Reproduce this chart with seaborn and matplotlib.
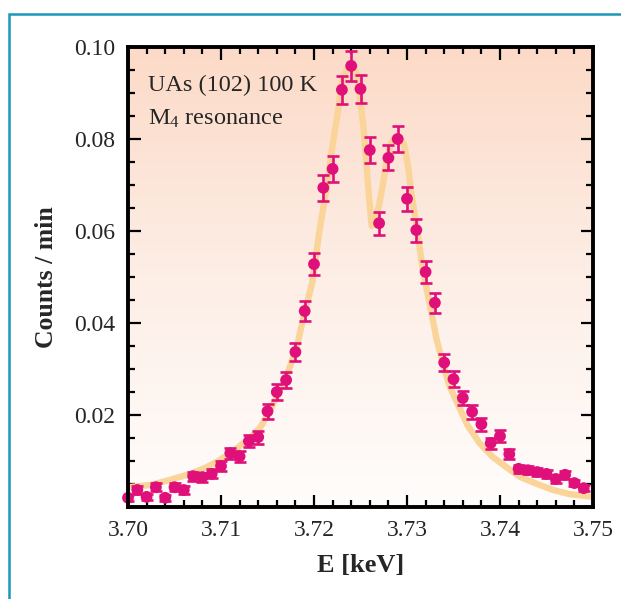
import numpy as np
import pandas as pd
import matplotlib
matplotlib.use("Agg")
import matplotlib.pyplot as plt
import seaborn as sns
from matplotlib.colors import LinearSegmentedColormap
from matplotlib.patches import Rectangle
from matplotlib.ticker import FixedLocator, MultipleLocator, FormatStrFormatter

# measured points (E in keV, counts/min, error)
energy = [3.700, 3.701, 3.702, 3.703, 3.704, 3.705, 3.706, 3.707, 3.708, 3.709,
          3.710, 3.711, 3.712, 3.713, 3.714, 3.715, 3.716, 3.717, 3.718, 3.719,
          3.720, 3.721, 3.722, 3.723, 3.724, 3.725, 3.726, 3.727, 3.728, 3.729,
          3.730, 3.731, 3.732, 3.733, 3.734, 3.735, 3.736, 3.737, 3.738, 3.739,
          3.740, 3.741, 3.742, 3.743, 3.744, 3.745, 3.746, 3.747, 3.748, 3.749]
counts = [0.0020, 0.0037, 0.0022, 0.0043, 0.0020, 0.0043, 0.0037, 0.0067, 0.0065, 0.0072,
          0.0089, 0.0117, 0.0110, 0.0143, 0.0152, 0.0208, 0.0250, 0.0276, 0.0337, 0.0426,
          0.0528, 0.0694, 0.0735, 0.0907, 0.0959, 0.0909, 0.0776, 0.0617, 0.0759, 0.0800,
          0.0670, 0.0602, 0.0511, 0.0444, 0.0314, 0.0278, 0.0237, 0.0207, 0.0180, 0.0139,
          0.0154, 0.0115, 0.0083, 0.0080, 0.0076, 0.0072, 0.0061, 0.0070, 0.0052, 0.0041]
errors = [0.0007, 0.0008, 0.0007, 0.0009, 0.0007, 0.0009, 0.0008, 0.0010, 0.0010, 0.0010,
          0.0011, 0.0012, 0.0012, 0.0013, 0.0014, 0.0016, 0.0017, 0.0018, 0.0019, 0.0022,
          0.0024, 0.0028, 0.0028, 0.0031, 0.0032, 0.0031, 0.0028, 0.0025, 0.0027, 0.0029,
          0.0026, 0.0025, 0.0023, 0.0022, 0.0018, 0.0017, 0.0016, 0.0015, 0.0014, 0.0012,
          0.0013, 0.0011, 0.0009, 0.0009, 0.0009, 0.0009, 0.0008, 0.0009, 0.0007, 0.0007]

# fitted curve
fit_e = [3.7000, 3.7025, 3.7045, 3.7067, 3.7083, 3.7097, 3.7115, 3.7132, 3.7142, 3.7151,
         3.7161, 3.7172, 3.7182, 3.7190, 3.7198, 3.7206, 3.7214, 3.7220, 3.7226, 3.7230,
         3.7235, 3.7239, 3.7243, 3.7246, 3.7249, 3.7253, 3.7256, 3.7259, 3.7262, 3.7266,
         3.7270, 3.7274, 3.7278, 3.7283, 3.7287, 3.7292, 3.7297, 3.7301, 3.7305, 3.7311,
         3.7317, 3.7325, 3.7332, 3.7339, 3.7346, 3.7355, 3.7365, 3.7378, 3.7392, 3.7408,
         3.7422, 3.7440, 3.7457, 3.7475, 3.7500]
fit_c = [0.0043, 0.0048, 0.0059, 0.0072, 0.0085, 0.0100, 0.0124, 0.0152, 0.0172, 0.0204,
         0.0243, 0.0293, 0.0352, 0.0424, 0.0487, 0.0602, 0.0700, 0.0787, 0.0863, 0.0924,
         0.0950, 0.0959, 0.0957, 0.0939, 0.0896, 0.0830, 0.0754, 0.0678, 0.0611, 0.0620,
         0.0657, 0.0700, 0.0754, 0.0791, 0.0804, 0.0804, 0.0787, 0.0743, 0.0678, 0.0602,
         0.0515, 0.0435, 0.0363, 0.0309, 0.0261, 0.0222, 0.0178, 0.0139, 0.0109, 0.0085,
         0.0065, 0.0050, 0.0037, 0.0028, 0.0022]

y_ticks = [0.02, 0.04, 0.06, 0.08, 0.10]
x_ticks = [3.70, 3.71, 3.72, 3.73, 3.74, 3.75]

POINT_COLOR = "#e0107a"
FIT_COLOR = "#fbd49a"

sns.set_theme(style="white")
plt.rcParams["font.family"] = ["Liberation Serif", "DejaVu Serif"]
plt.rcParams["mathtext.fontset"] = "custom"
plt.rcParams["mathtext.rm"] = "Liberation Serif"
plt.rcParams["mathtext.it"] = "Liberation Serif:italic"

data = pd.DataFrame({"E": energy, "counts": counts, "err": errors})
fit = pd.DataFrame({"E": fit_e, "counts": fit_c})

fig = plt.figure(figsize=(6.21, 5.99), dpi=100)
ax = fig.add_axes([128 / 621, 92 / 599, 465 / 621, 460 / 599])

# peach-to-white background
cmap = LinearSegmentedColormap.from_list("bg", ["#fffdfc", "#fdeee6", "#fcdac7"])
grad = np.linspace(0, 1, 256).reshape(-1, 1)
ax.imshow(grad, extent=[3.700, 3.750, 0, 0.10], origin="lower", aspect="auto",
          cmap=cmap, zorder=0)

sns.lineplot(data=fit, x="E", y="counts", ax=ax, color=FIT_COLOR, lw=4.6,
             sort=False, zorder=2, solid_capstyle="round", solid_joinstyle="round")
ax.errorbar(data["E"], data["counts"], yerr=data["err"], fmt="none",
            ecolor=POINT_COLOR, elinewidth=1.9, capsize=4.3, capthick=1.9, zorder=3)
sns.scatterplot(data=data, x="E", y="counts", ax=ax, color=POINT_COLOR, s=72,
                edgecolor="none", zorder=4, clip_on=False)

ax.set_xlim(3.700, 3.750)
ax.set_ylim(0, 0.10)

ax.xaxis.set_major_locator(FixedLocator(x_ticks))
ax.xaxis.set_minor_locator(MultipleLocator(0.002))
ax.xaxis.set_major_formatter(FormatStrFormatter("%.2f"))
ax.yaxis.set_major_locator(FixedLocator(y_ticks))
ax.yaxis.set_minor_locator(MultipleLocator(0.005))
ax.yaxis.set_major_formatter(FormatStrFormatter("%.2f"))

ax.tick_params(which="both", direction="in", top=True, right=True, bottom=True,
               left=True, color="black", labelsize=17, width=1.6)
ax.tick_params(which="major", length=9, pad=9)
ax.tick_params(which="minor", length=5)
for s in ax.spines.values():
    s.set_linewidth(2.8)
    s.set_color("black")
    s.set_zorder(5)

ax.set_xlabel("E [keV]", fontsize=19, fontweight="bold", labelpad=10)
ax.set_ylabel("Counts / min", fontsize=18.5, fontweight="bold", labelpad=12)

ax.text(0.043, 0.905, "UAs (102) 100 K", transform=ax.transAxes, fontsize=17.5,
        va="baseline")
ax.text(0.043, 0.832, "M$_4$ resonance", transform=ax.transAxes, fontsize=17.5,
        va="baseline")

# teal frame around the panel
fig.patches.append(Rectangle((9 / 621, -0.2), 1.2, 1 - 14 / 599 + 0.2,
                             transform=fig.transFigure, fill=False,
                             edgecolor="#1b97b8", lw=1.8))

fig.savefig("out.png", dpi=100)
